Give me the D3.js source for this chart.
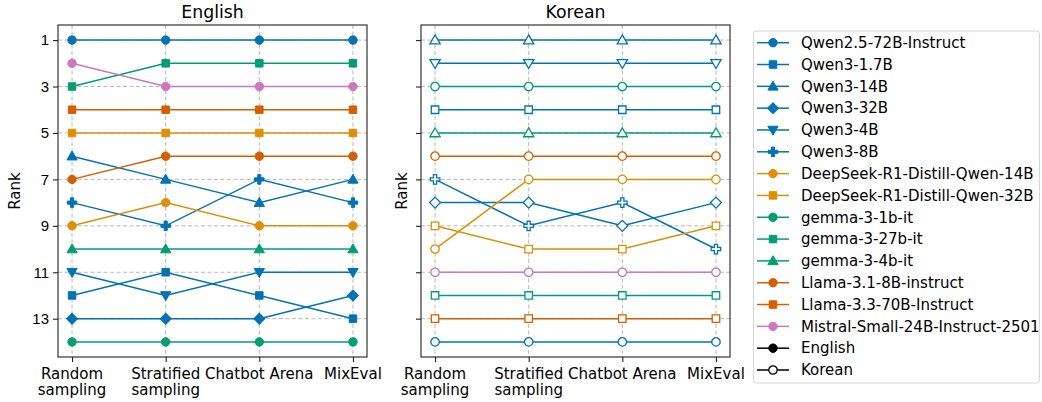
<!DOCTYPE html>
<html>
<head>
<meta charset="utf-8">
<script src="https://cdn.jsdelivr.net/npm/d3@7"></script>
<style>
  body { margin: 0; background: #fff; }
  svg { font-family: "DejaVu Sans", sans-serif; }
</style>
</head>
<body>
<div id="chart"></div>
<script>
// methods on the x axis
const methods = ["Random\nsampling", "Stratified\nsampling", "Chatbot Arena", "MixEval"];

const models = [
    "Qwen2.5-72B-Instruct", "Qwen3-1.7B", "Qwen3-14B", "Qwen3-32B", "Qwen3-4B", "Qwen3-8B",
    "DeepSeek-R1-Distill-Qwen-14B", "DeepSeek-R1-Distill-Qwen-32B",
    "gemma-3-1b-it", "gemma-3-27b-it", "gemma-3-4b-it",
    "Llama-3.1-8B-instruct", "Llama-3.3-70B-Instruct",
    "Mistral-Small-24B-Instruct-2501"
];

// ranks per model, one value per method
const englishRanks = [
    [1, 1, 1, 1],
    [12, 11, 12, 13],
    [6, 7, 8, 7],
    [13, 13, 13, 12],
    [11, 12, 11, 11],
    [8, 9, 7, 8],
    [9, 8, 9, 9],
    [5, 5, 5, 5],
    [14, 14, 14, 14],
    [3, 2, 2, 2],
    [10, 10, 10, 10],
    [7, 6, 6, 6],
    [4, 4, 4, 4],
    [2, 3, 3, 3]
];

const koreanRanks = [
    [14, 14, 14, 14],
    [4, 4, 4, 4],
    [1, 1, 1, 1],
    [8, 8, 9, 8],
    [2, 2, 2, 2],
    [7, 9, 8, 10],
    [10, 7, 7, 7],
    [9, 10, 10, 9],
    [3, 3, 3, 3],
    [12, 12, 12, 12],
    [5, 5, 5, 5],
    [6, 6, 6, 6],
    [13, 13, 13, 13],
    [11, 11, 11, 11]
];

const yTicks = [1, 3, 5, 7, 9, 11, 13];

// styles
const blue = "#0173b2", orange = "#de8f05", green = "#029e73", red = "#d55e00", pink = "#cc78bc";
const colors = [blue, blue, blue, blue, blue, blue, orange, orange, green, green, green, red, red, pink];
const shapes = ["o", "s", "^", "D", "v", "P", "o", "s", "o", "s", "^", "o", "s", "o"];
const fontSize = 15;

const W = 1042, H = 402;
const svg = d3.select("#chart").append("svg")
    .attr("width", W).attr("height", H);

function markerPath(shape) {
    if (shape === "o") return d3.symbol(d3.symbolCircle, 56)();
    if (shape === "s") return d3.symbol(d3.symbolSquare, 56)();
    if (shape === "^" || shape === "v") return d3.symbol(d3.symbolTriangle, 46)();
    if (shape === "D") return d3.symbol(d3.symbolSquare, 60)();
    if (shape === "P") return d3.symbol(d3.symbolCross, 50)();
}
function markerRotate(shape) {
    if (shape === "v") return " rotate(180)";
    if (shape === "D") return " rotate(45)";
    return "";
}
function markerShift(shape) {
    // d3 triangles are centred on the centroid; nudge to the box centre
    if (shape === "^") return 0.8;
    if (shape === "v") return -0.8;
    return 0;
}

const panels = [
    { title: "English", ranks: englishRanks, left: 58, right: 367, labels: true, rankX: 15, open: false },
    { title: "Korean", ranks: koreanRanks, left: 421, right: 730, labels: false, rankX: 402, open: true }
];
const plotTop = 25, plotBottom = 357;

panels.forEach(function(p) {
    const x = d3.scaleLinear().domain([-0.15, 3.15]).range([p.left, p.right]);
    const y = d3.scaleLinear().domain([0.35, 14.65]).range([plotTop, plotBottom]);

    const g = svg.append("g");

    // grid
    g.append("g").selectAll("line").data(yTicks).join("line")
        .attr("x1", p.left).attr("x2", p.right)
        .attr("y1", d => y(d)).attr("y2", d => y(d))
        .attr("stroke", "#b0b0b0").attr("stroke-width", 0.9)
        .attr("stroke-dasharray", "4,2.5");
    g.append("g").selectAll("line").data(methods).join("line")
        .attr("x1", (d, i) => x(i)).attr("x2", (d, i) => x(i))
        .attr("y1", plotTop).attr("y2", plotBottom)
        .attr("stroke", "#b0b0b0").attr("stroke-width", 0.9)
        .attr("stroke-dasharray", "4,2.5");

    // axes
    const yAxis = d3.axisLeft(y).tickValues(yTicks).tickSize(5).tickPadding(4)
        .tickFormat(p.labels ? d3.format("d") : "");
    const ya = g.append("g").attr("transform", "translate(" + p.left + ",0)").call(yAxis);
    ya.select(".domain").remove();
    ya.selectAll("text").attr("font-size", fontSize).attr("fill", "#000");
    ya.selectAll("line").attr("stroke", "#222").attr("stroke-width", 1.1);

    const xAxis = d3.axisBottom(x).tickValues([0, 1, 2, 3]).tickSize(5).tickFormat("");
    const xa = g.append("g").attr("transform", "translate(0," + plotBottom + ")").call(xAxis);
    xa.select(".domain").remove();
    xa.selectAll("line").attr("stroke", "#222").attr("stroke-width", 1.1);

    // multi-line tick labels
    methods.forEach(function(m, i) {
        const t = g.append("text")
            .attr("x", x(i)).attr("y", 378.5)
            .attr("text-anchor", "middle")
            .attr("font-size", fontSize);
        m.split("\n").forEach(function(line, j) {
            t.append("tspan").attr("x", x(i)).attr("dy", j === 0 ? 0 : 16.5).text(line);
        });
    });

    // series
    const line = d3.line().x((d, i) => x(i)).y(d => y(d));
    p.ranks.forEach(function(r, k) {
        const s = g.append("g");
        s.append("path").datum(r)
            .attr("d", line)
            .attr("fill", "none")
            .attr("stroke", colors[k])
            .attr("stroke-width", 1.5);
        s.selectAll("path.m").data(r).join("path")
            .attr("class", "m")
            .attr("d", markerPath(shapes[k]))
            .attr("transform", (d, i) => "translate(" + x(i) + "," + (y(d) + markerShift(shapes[k])) + ")" + markerRotate(shapes[k]))
            .attr("fill", p.open ? "#fff" : colors[k])
            .attr("stroke", colors[k])
            .attr("stroke-width", p.open ? 1.3 : 1);
    });

    // frame
    g.append("rect")
        .attr("x", p.left).attr("y", plotTop)
        .attr("width", p.right - p.left).attr("height", plotBottom - plotTop)
        .attr("fill", "none").attr("stroke", "#222").attr("stroke-width", 1.1);

    // titles
    g.append("text")
        .attr("x", (p.left + p.right) / 2).attr("y", 18)
        .attr("text-anchor", "middle")
        .attr("font-size", 17.3)
        .text(p.title);

    g.append("text")
        .attr("transform", "translate(" + p.rankX + "," + (plotTop + plotBottom) / 2 + ") rotate(-90)")
        .attr("text-anchor", "middle")
        .attr("dy", "0.35em")
        .attr("font-size", fontSize)
        .text("Rank");
});

// legend
const legendItems = models.map((m, k) => ({ label: m, color: colors[k], shape: shapes[k], open: false }))
    .concat([
        { label: "English", color: "#000", shape: "o", open: false },
        { label: "Korean", color: "#000", shape: "o", open: true }
    ]);

const lg = svg.append("g");
lg.append("rect")
    .attr("x", 753.5).attr("y", 31)
    .attr("width", 286).attr("height", 352)
    .attr("rx", 3)
    .attr("fill", "#fff").attr("stroke", "#d6d6d6").attr("stroke-width", 1);

const ly = d3.scaleLinear().domain([0, legendItems.length - 1]).range([42.7, 370]);
legendItems.forEach(function(d, k) {
    const row = lg.append("g").attr("transform", "translate(0," + ly(k) + ")");
    row.append("line")
        .attr("x1", 757).attr("x2", 789)
        .attr("stroke", d.color).attr("stroke-width", 1.5);
    row.append("path")
        .attr("d", markerPath(d.shape))
        .attr("transform", "translate(773," + markerShift(d.shape) + ")" + markerRotate(d.shape))
        .attr("fill", d.open ? "#fff" : d.color)
        .attr("stroke", d.color)
        .attr("stroke-width", d.open ? 1.3 : 1);
    row.append("text")
        .attr("x", 801).attr("dy", "0.35em")
        .attr("font-size", fontSize)
        .text(d.label);
});
</script>
</body>
</html>
